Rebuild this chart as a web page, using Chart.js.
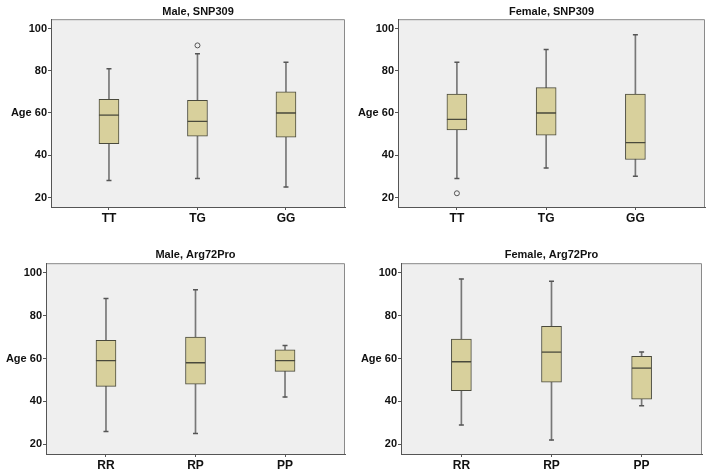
<!DOCTYPE html>
<html>
<head>
<meta charset="utf-8">
<script src="https://cdn.jsdelivr.net/npm/chart.js@4.4.1/dist/chart.umd.min.js"></script>
<style>
  body { margin: 0; background: #fff; }
  .panel { position: absolute; width: 357px; height: 237px; }
</style>
</head>
<body>
<div class="panel" style="left:0;top:0"><canvas id="maleSnp"></canvas></div>
<div class="panel" style="left:357px;top:0"><canvas id="femaleSnp"></canvas></div>
<div class="panel" style="left:0;top:237px"><canvas id="maleArg"></canvas></div>
<div class="panel" style="left:357px;top:237px"><canvas id="femaleArg"></canvas></div>
<script>
// categories
const snpLabels = ['TT', 'TG', 'GG'];
const argLabels = ['RR', 'RP', 'PP'];
const yTicks = [20, 40, 60, 80, 100];

// Male, SNP309
const maleSnpMin = [28, 29, 25];
const maleSnpQ1 = [45.5, 49, 48.5];
const maleSnpMed = [59, 56, 60];
const maleSnpQ3 = [66.5, 66, 70];
const maleSnpMax = [81, 88, 84];
const maleSnpOut = [null, 92, null];

// Female, SNP309
const femaleSnpMin = [29, 34, 30];
const femaleSnpQ1 = [52, 49.5, 38];
const femaleSnpMed = [57, 60, 46];
const femaleSnpQ3 = [69, 72, 69];
const femaleSnpMax = [84, 90, 97];
const femaleSnpOut = [22, null, null];

// Male, Arg72Pro
const maleArgMin = [26, 25, 42];
const maleArgQ1 = [47, 48, 54];
const maleArgMed = [59, 58, 59];
const maleArgQ3 = [68.5, 70, 64];
const maleArgMax = [88, 92, 66];
const maleArgOut = [null, null, null];

// Female, Arg72Pro
const femaleArgMin = [29, 22, 38];
const femaleArgQ1 = [45, 49, 41];
const femaleArgMed = [58.5, 63, 55.5];
const femaleArgQ3 = [69, 75, 61];
const femaleArgMax = [97, 96, 63];
const femaleArgOut = [null, null, null];

Chart.defaults.font.family = "'Liberation Sans', Arial, sans-serif";
Chart.defaults.font.weight = 'bold';
Chart.defaults.font.size = 11;
Chart.defaults.color = '#222';

// grey plot background + light frame on top/right
const plotFrame = {
  id: 'plotFrame',
  beforeDraw(chart) {
    const a = chart.chartArea, ctx = chart.ctx;
    ctx.save();
    ctx.fillStyle = '#efefef';
    ctx.fillRect(a.left, a.top, a.right - a.left, a.bottom - a.top);
    ctx.strokeStyle = '#8a8a8a';
    ctx.lineWidth = 1;
    ctx.beginPath();
    ctx.moveTo(a.left, a.top + 0.5);
    ctx.lineTo(a.right - 0.5, a.top + 0.5);
    ctx.lineTo(a.right - 0.5, a.bottom);
    ctx.stroke();
    ctx.restore();
  }
};

function boxChart(id, title, labels, mins, q1s, meds, q3s, maxs, outs, g) {
  const pts = (arr) => arr.map((v, i) => ({ x: i, y: v })).filter(p => p.y !== null);
  const span = (a, b) => a.map((v, i) => ({ x: i, y: [v, b[i]] }));
  const boxStyle = {
    type: 'bar', grouped: false, barThickness: 20,
    backgroundColor: '#d8d09c', borderColor: '#4a4a3c', borderWidth: 1, borderSkipped: false, order: 2
  };

  return new Chart(document.getElementById(id), {
    type: 'bar',
    data: {
      datasets: [
        { type: 'bar', data: span(mins, maxs), grouped: false, barThickness: 1, backgroundColor: '#777', order: 3 },
        Object.assign({ data: span(q1s, meds) }, boxStyle),
        Object.assign({ data: span(meds, q3s) }, boxStyle),
        { type: 'line', data: pts(mins).concat(pts(maxs)), showLine: false, pointStyle: 'line',
          pointRadius: 2.5, borderColor: '#555', borderWidth: 1.5, order: 1 },
        { type: 'line', data: pts(outs), showLine: false, pointStyle: 'circle',
          pointRadius: 2.5, backgroundColor: '#efefef', borderColor: '#555', borderWidth: 1, order: 1 }
      ]
    },
    options: {
      responsive: true,
      maintainAspectRatio: false,
      animation: false,
      layout: { padding: { left: 0, right: g.padRight, top: 0, bottom: 0 } },
      plugins: {
        legend: { display: false },
        tooltip: { enabled: false },
        title: {
          display: true, text: title, fullSize: false,
          font: { size: 11, weight: 'bold' }, color: '#111',
          padding: { top: g.titleTop, bottom: g.titleBottom }
        }
      },
      scales: {
        x: {
          type: 'linear', min: g.xMin, max: g.xMax, offset: false,
          afterBuildTicks: (ax) => { ax.ticks = labels.map((l, i) => ({ value: i })); },
          afterFit: (ax) => { ax.height = 237 - g.plotBottom; },
          ticks: { callback: (v) => labels[v], padding: 1, font: { size: 12, weight: 'bold' }, color: '#111', maxRotation: 0 },
          grid: { offset: false, drawOnChartArea: false, tickLength: 3, color: '#555' },
          border: { color: '#555', width: 1 }
        },
        y: {
          min: 15.5, max: 104.4,
          afterBuildTicks: (ax) => { ax.ticks = yTicks.map(v => ({ value: v })); },
          afterFit: (ax) => { ax.width = g.plotLeft; },
          ticks: { callback: (v) => v === 60 ? 'Age 60' : v, padding: 1, color: '#111' },
          grid: { drawOnChartArea: false, tickLength: 3, color: '#555' },
          border: { color: '#555', width: 1 }
        }
      }
    },
    plugins: [plotFrame]
  });
}

boxChart('maleSnp', 'Male, SNP309', snpLabels, maleSnpMin, maleSnpQ1, maleSnpMed, maleSnpQ3, maleSnpMax, maleSnpOut,
  { plotLeft: 51, padRight: 12, plotBottom: 207, titleTop: 5, titleBottom: 1, xMin: -0.655, xMax: 2.667 });
boxChart('femaleSnp', 'Female, SNP309', snpLabels, femaleSnpMin, femaleSnpQ1, femaleSnpMed, femaleSnpQ3, femaleSnpMax, femaleSnpOut,
  { plotLeft: 41, padRight: 9, plotBottom: 207, titleTop: 5, titleBottom: 1, xMin: -0.66, xMax: 2.78 });
boxChart('maleArg', 'Male, Arg72Pro', argLabels, maleArgMin, maleArgQ1, maleArgMed, maleArgQ3, maleArgMax, maleArgOut,
  { plotLeft: 46, padRight: 12, plotBottom: 217, titleTop: 11, titleBottom: 2, xMin: -0.67, xMax: 2.67 });
boxChart('femaleArg', 'Female, Arg72Pro', argLabels, femaleArgMin, femaleArgQ1, femaleArgMed, femaleArgQ3, femaleArgMax, femaleArgOut,
  { plotLeft: 44, padRight: 12, plotBottom: 217, titleTop: 11, titleBottom: 2, xMin: -0.67, xMax: 2.67 });
</script>
</body>
</html>
